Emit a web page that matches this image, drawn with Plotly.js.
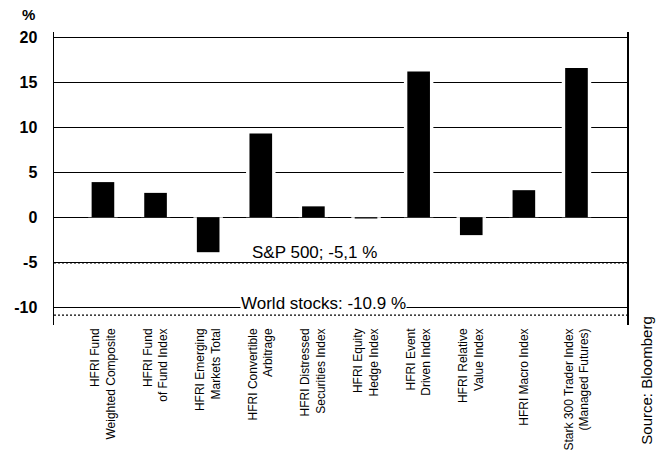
<!DOCTYPE html>
<html>
<head>
<meta charset="utf-8">
<script src="https://cdn.plot.ly/plotly-3.0.1.min.js"></script>
<style>html,body{margin:0;padding:0;background:#fff;}#chart{width:658px;height:450px;}</style>
</head>
<body>
<div id="chart"></div>
<script>
const categories = [
  "HFRI Fund<br>Weighted Composite",
  "HFRI Fund<br>of Fund Index",
  "HFRI Emerging<br>Markets Total",
  "HFRI Convertible<br>Arbitrage",
  "HFRI Distressed<br>Securities Index",
  "HFRI Equity<br>Hedge Index",
  "HFRI Event<br>Driven Index",
  "HFRI Relative<br>Value Index",
  "HFRI Macro Index",
  "Stark 300 Trader Index<br>(Managed Futures)"
];
const values = [3.9, 2.7, -3.9, 9.3, 1.2, -0.15, 16.2, -2.0, 3.0, 16.6];
const spValue = -5.1;
const worldValue = -10.9;
const spLabel = "S&P 500; -5,1 %";
const worldLabel = "World stocks: -10.9 %";
const yTicks = [-10, -5, 0, 5, 10, 15, 20];

const font = "Liberation Sans, Arial, sans-serif";
const narrow = "Liberation Sans Narrow, Arial Narrow, Liberation Sans, Arial, sans-serif";

const traces = [
  {type: 'bar', x: categories, y: values, width: 0.56,
   marker: {color: '#ffffff'}, hoverinfo: 'skip', showlegend: false},
  {type: 'bar', x: categories, y: values, width: 0.43,
   marker: {color: '#000000'}, hoverinfo: 'skip', showlegend: false}
];

const layout = {
  width: 658, height: 450,
  margin: {l: 54, r: 31, t: 32, b: 125},
  paper_bgcolor: '#fff', plot_bgcolor: '#fff',
  barmode: 'overlay',
  showlegend: false,
  hovermode: false,
  xaxis: {
    type: 'category', range: [-0.93, 9.96],
    showgrid: false, zeroline: false, showline: false,
    ticks: '', tickangle: -90,
    tickfont: {family: narrow, size: 12, color: '#000'}
  },
  yaxis: {
    range: [-12, 20.6],
    tickvals: yTicks, ticktext: yTicks.map(String),
    showgrid: true, gridcolor: '#000', gridwidth: 1,
    zeroline: true, zerolinecolor: '#000', zerolinewidth: 1,
    showline: true, mirror: true, linecolor: '#000', linewidth: 1.5,
    ticks: 'outside', ticklen: 12, tickcolor: 'rgba(0,0,0,0)',
    tickfont: {family: font, size: 16, color: '#000', weight: 'bold'}
  },
  shapes: [
    {type: 'line', xref: 'paper', x0: 0, x1: 1, yref: 'y', y0: spValue, y1: spValue,
     line: {color: '#000', width: 1.2, dash: '2px,2px'}},
    {type: 'line', xref: 'paper', x0: 0, x1: 1, yref: 'y', y0: worldValue, y1: worldValue,
     line: {color: '#000', width: 1.2, dash: '2px,2px'}}
  ],
  annotations: [
    {xref: 'paper', yref: 'y', x: 0.455, y: spValue, yanchor: 'bottom', xanchor: 'center',
     text: spLabel, showarrow: false, yshift: 0, borderpad: 0,
     font: {family: font, size: 17, color: '#000'}},
    {xref: 'paper', yref: 'y', x: 0.47, y: worldValue, yanchor: 'bottom', xanchor: 'center',
     text: worldLabel, showarrow: false, bgcolor: '#fff', borderpad: 0, yshift: 1,
     font: {family: font, size: 17, color: '#000'}},
    {xref: 'paper', yref: 'paper', x: -0.045, y: 1.06, xanchor: 'center', yanchor: 'middle',
     xshift: 0, text: '%', showarrow: false,
     font: {family: font, size: 15, color: '#000', weight: 'bold'}},
    {xref: 'paper', yref: 'paper', x: 1.0, xshift: 20, y: -0.19, xanchor: 'center', yanchor: 'middle',
     text: 'Source: Bloomberg', textangle: -90, showarrow: false,
     font: {family: font, size: 15, color: '#000'}}
  ]
};

Plotly.newPlot('chart', traces, layout, {displayModeBar: false, staticPlot: true});
</script>
</body>
</html>
